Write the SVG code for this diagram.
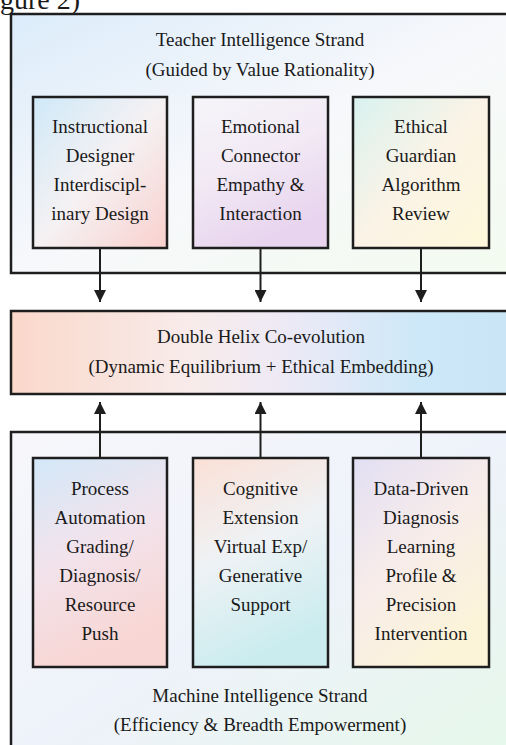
<svg xmlns="http://www.w3.org/2000/svg" width="506" height="745" viewBox="0 0 506 745">
<defs>
<style>
text{font-family:"Liberation Serif","Times New Roman",serif;fill:#1a1a1a;text-anchor:middle;font-size:19px}
.frame{stroke:#1e1e1e;stroke-width:2.5}
.box{stroke:#1e1e1e;stroke-width:2.5}
.conn{stroke:#1e1e1e;stroke-width:2;fill:none}
</style>
<marker id="ah" viewBox="0 0 10 10" refX="10" refY="5" markerWidth="12" markerHeight="12" markerUnits="userSpaceOnUse" orient="auto">
<path d="M0,0 L10,5 L0,10 Z" fill="#1e1e1e"/>
</marker>
<linearGradient id="gTop" x1="0" y1="0" x2="1" y2="1">
<stop offset="0" stop-color="#dcecfa"/><stop offset="0.5" stop-color="#f7f8fb"/><stop offset="1" stop-color="#f3fbef"/>
</linearGradient>
<linearGradient id="gT1" x1="0" y1="0" x2="1" y2="1">
<stop offset="0" stop-color="#cfe9f8"/><stop offset="0.5" stop-color="#f5f1f3"/><stop offset="1" stop-color="#f9d0cd"/>
</linearGradient>
<linearGradient id="gT2" x1="0" y1="0" x2="0.4" y2="1">
<stop offset="0" stop-color="#f6f5f9"/><stop offset="0.5" stop-color="#f2eaf5"/><stop offset="1" stop-color="#e8d4ee"/>
</linearGradient>
<linearGradient id="gT3" x1="0" y1="0" x2="1" y2="1">
<stop offset="0" stop-color="#d9f2f0"/><stop offset="0.5" stop-color="#fbf3e6"/><stop offset="1" stop-color="#fdf8da"/>
</linearGradient>
<linearGradient id="gMid" x1="0" y1="0" x2="1" y2="0">
<stop offset="0" stop-color="#fad8ca"/><stop offset="0.35" stop-color="#f8ebea"/><stop offset="0.55" stop-color="#ece9f6"/><stop offset="0.8" stop-color="#cde8f8"/><stop offset="1" stop-color="#c9e5f6"/>
</linearGradient>
<linearGradient id="gBot" x1="0" y1="0" x2="1" y2="1">
<stop offset="0" stop-color="#f7f7fb"/><stop offset="0.5" stop-color="#eef2fa"/><stop offset="1" stop-color="#e6f8ea"/>
</linearGradient>
<linearGradient id="gB1" x1="0" y1="0" x2="0.3" y2="1">
<stop offset="0" stop-color="#d3e8f8"/><stop offset="0.5" stop-color="#f2e3ec"/><stop offset="1" stop-color="#f8d6d3"/>
</linearGradient>
<linearGradient id="gB2" x1="0" y1="0" x2="0.3" y2="1">
<stop offset="0" stop-color="#fbe0d6"/><stop offset="0.5" stop-color="#eef2f5"/><stop offset="1" stop-color="#cbecef"/>
</linearGradient>
<linearGradient id="gB3" x1="0" y1="0" x2="0.6" y2="1">
<stop offset="0" stop-color="#e2dff4"/><stop offset="0.5" stop-color="#f7ecea"/><stop offset="1" stop-color="#fcf4d8"/>
</linearGradient>
</defs>

<text x="0" y="9" style="text-anchor:start;font-size:28px">gure 2)</text>

<g id="teacher-strand">
<rect class="frame" x="11" y="14" width="510" height="259" fill="url(#gTop)"/>
<text x="260" y="46">Teacher Intelligence Strand</text>
<text x="260" y="76">(Guided by Value Rationality)</text>
</g>

<g id="machine-strand">
<rect class="frame" x="11" y="432" width="510" height="330" fill="url(#gBot)"/>
<text x="260" y="702">Machine Intelligence Strand</text>
<text x="260" y="731">(Efficiency &amp; Breadth Empowerment)</text>
</g>

<g id="instructional-designer">
<rect class="box" x="33" y="97" width="134" height="151" fill="url(#gT1)"/>
<text x="100" y="133">Instructional</text>
<text x="100" y="162">Designer</text>
<text x="100" y="191">Interdiscipl-</text>
<text x="100" y="220">inary Design</text>
</g>

<g id="emotional-connector">
<rect class="box" x="193" y="97" width="135" height="151" fill="url(#gT2)"/>
<text x="260.5" y="133">Emotional</text>
<text x="260.5" y="162">Connector</text>
<text x="260.5" y="191">Empathy &amp;</text>
<text x="260.5" y="220">Interaction</text>
</g>

<g id="ethical-guardian">
<rect class="box" x="353" y="97" width="136" height="151" fill="url(#gT3)"/>
<text x="421" y="133">Ethical</text>
<text x="421" y="162">Guardian</text>
<text x="421" y="191">Algorithm</text>
<text x="421" y="220">Review</text>
</g>

<g id="double-helix">
<rect class="frame" x="11" y="311" width="510" height="83" fill="url(#gMid)"/>
<text x="261" y="343">Double Helix Co-evolution</text>
<text x="261" y="373">(Dynamic Equilibrium + Ethical Embedding)</text>
</g>

<g id="process-automation">
<rect class="box" x="33" y="458" width="134" height="209" fill="url(#gB1)"/>
<text x="100" y="495">Process</text>
<text x="100" y="524">Automation</text>
<text x="100" y="553">Grading/</text>
<text x="100" y="582">Diagnosis/</text>
<text x="100" y="611">Resource</text>
<text x="100" y="640">Push</text>
</g>

<g id="cognitive-extension">
<rect class="box" x="193" y="458" width="135" height="209" fill="url(#gB2)"/>
<text x="260.5" y="495">Cognitive</text>
<text x="260.5" y="524">Extension</text>
<text x="260.5" y="553">Virtual Exp/</text>
<text x="260.5" y="582">Generative</text>
<text x="260.5" y="611">Support</text>
</g>

<g id="data-driven-diagnosis">
<rect class="box" x="353" y="458" width="136" height="209" fill="url(#gB3)"/>
<text x="421" y="495">Data-Driven</text>
<text x="421" y="524">Diagnosis</text>
<text x="421" y="553">Learning</text>
<text x="421" y="582">Profile &amp;</text>
<text x="421" y="611">Precision</text>
<text x="421" y="640">Intervention</text>
</g>

<g id="connectors">
<line class="conn" x1="100" y1="249" x2="100" y2="302" marker-end="url(#ah)"/>
<line class="conn" x1="260.5" y1="249" x2="260.5" y2="302" marker-end="url(#ah)"/>
<line class="conn" x1="421" y1="249" x2="421" y2="302" marker-end="url(#ah)"/>
<line class="conn" x1="100" y1="457" x2="100" y2="402" marker-end="url(#ah)"/>
<line class="conn" x1="260.5" y1="457" x2="260.5" y2="402" marker-end="url(#ah)"/>
<line class="conn" x1="421" y1="457" x2="421" y2="402" marker-end="url(#ah)"/>
</g>
</svg>
